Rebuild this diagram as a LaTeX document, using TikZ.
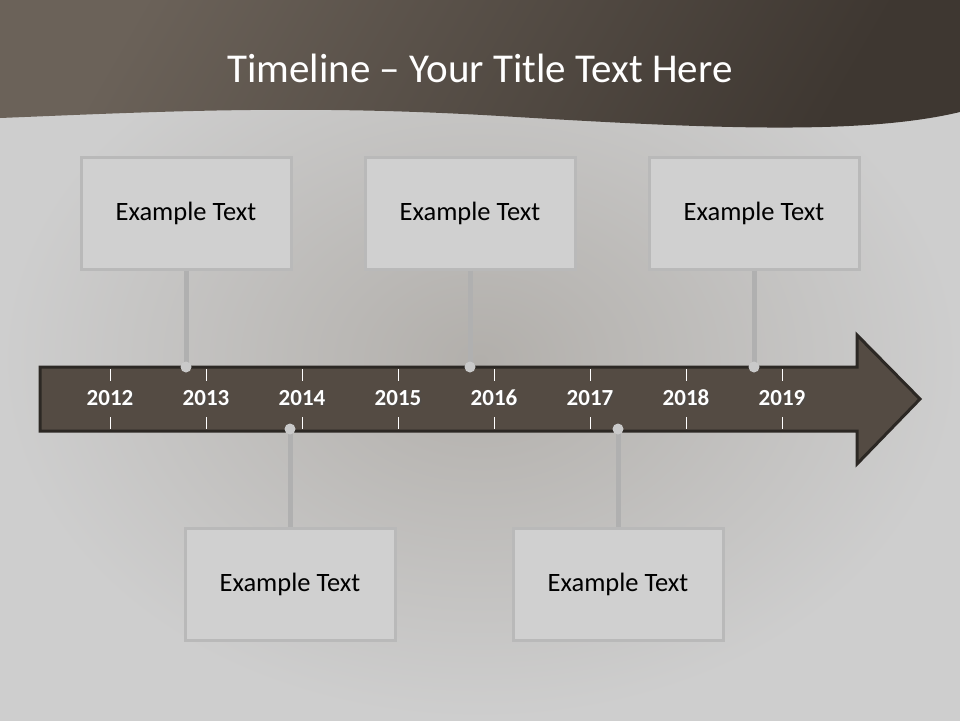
\documentclass[tikz,border=0pt]{standalone}
\usepackage{fontspec}
\setmainfont{Carlito}
\usepackage{tikz}
\usetikzlibrary{calc, positioning}
\definecolor{headdark}{HTML}{3E3731}
\definecolor{headlight}{HTML}{6B6259}
\definecolor{bginner}{HTML}{B2AFAB}
\definecolor{bgouter}{HTML}{CECECE}
\definecolor{arrowfill}{HTML}{544B43}
\definecolor{arrowline}{HTML}{2C2824}
\definecolor{boxfill}{HTML}{D0D0D0}
\definecolor{boxline}{HTML}{B9B9B9}
\definecolor{dotfill}{HTML}{C9C9C9}
\tikzstyle{event} = [draw=boxline, line width=3pt, fill=boxfill, minimum width=210pt, minimum height=112pt, text=black, font=\fontsize{26.5}{30}\selectfont]
\tikzstyle{stem} = [draw=boxline!95!black, line width=5pt]
\tikzstyle{tick} = [draw=white, line width=1pt]
\tikzstyle{year} = [text=white, anchor=base, font=\bfseries\fontsize{23}{26}\selectfont]

\begin{document}
\begin{tikzpicture}[x=1pt, y=-1pt]
	\useasboundingbox (0,0) rectangle (960,720);
	% background and header
	\shade[inner color=bginner, outer color=bgouter] (0,0) rectangle (960,720);
	\shade[left color=headlight, right color=headdark, shading angle=60]
		(0,0) -- (0,118) .. controls (150,112) and (300,104) .. (500,116)
		.. controls (700,128) and (860,136) .. (960,112) -- (960,0) -- cycle;
	\node (title) at (480,68) [text=white, font=\fontsize{41}{48}\selectfont] {Timeline -- Your Title Text Here};
	% arrow
	\draw[fill=arrowfill, draw=arrowline, line width=3pt, line join=miter]
		(40,367) -- (857,367) -- (857,335) -- (920,399) -- (857,464) -- (857,431) -- (40,431) -- cycle;
	\foreach \yr [count=\i from 0] in {2012,2013,2014,2015,2016,2017,2018,2019} {
		\draw[tick] (110+96*\i,369) -- ++(0,12);
		\draw[tick] (110+96*\i,417) -- ++(0,12);
		\node[year, text=black!70, opacity=0.6] at (111.5+96*\i,406.5) {\yr};
		\node[year] (y\yr) at (110+96*\i,405) {\yr};
	}
	% events
	\node (e1) [event] at (186,213) {Example Text};
	\node (e2) [event] at (470,213) {Example Text};
	\node (e3) [event] at (754,213) {Example Text};
	\node (e4) [event] at (290,584) {Example Text};
	\node (e5) [event] at (618,584) {Example Text};
	\coordinate (d1) at (e1.south |- 0,367);
	\coordinate (d2) at (e2.south |- 0,367);
	\coordinate (d3) at (e3.south |- 0,367);
	\coordinate (d4) at (e4.north |- 0,429);
	\coordinate (d5) at (e5.north |- 0,429);
	\foreach \e/\d in {e1/d1, e2/d2, e3/d3} {
		\draw[stem] (\e.south) -- (\d);
		\fill[dotfill] (\d) circle (5.5pt);
	}
	\foreach \e/\d in {e4/d4, e5/d5} {
		\draw[stem] (\e.north) -- (\d);
		\fill[dotfill] (\d) circle (5.5pt);
	}
\end{tikzpicture}
\end{document}
